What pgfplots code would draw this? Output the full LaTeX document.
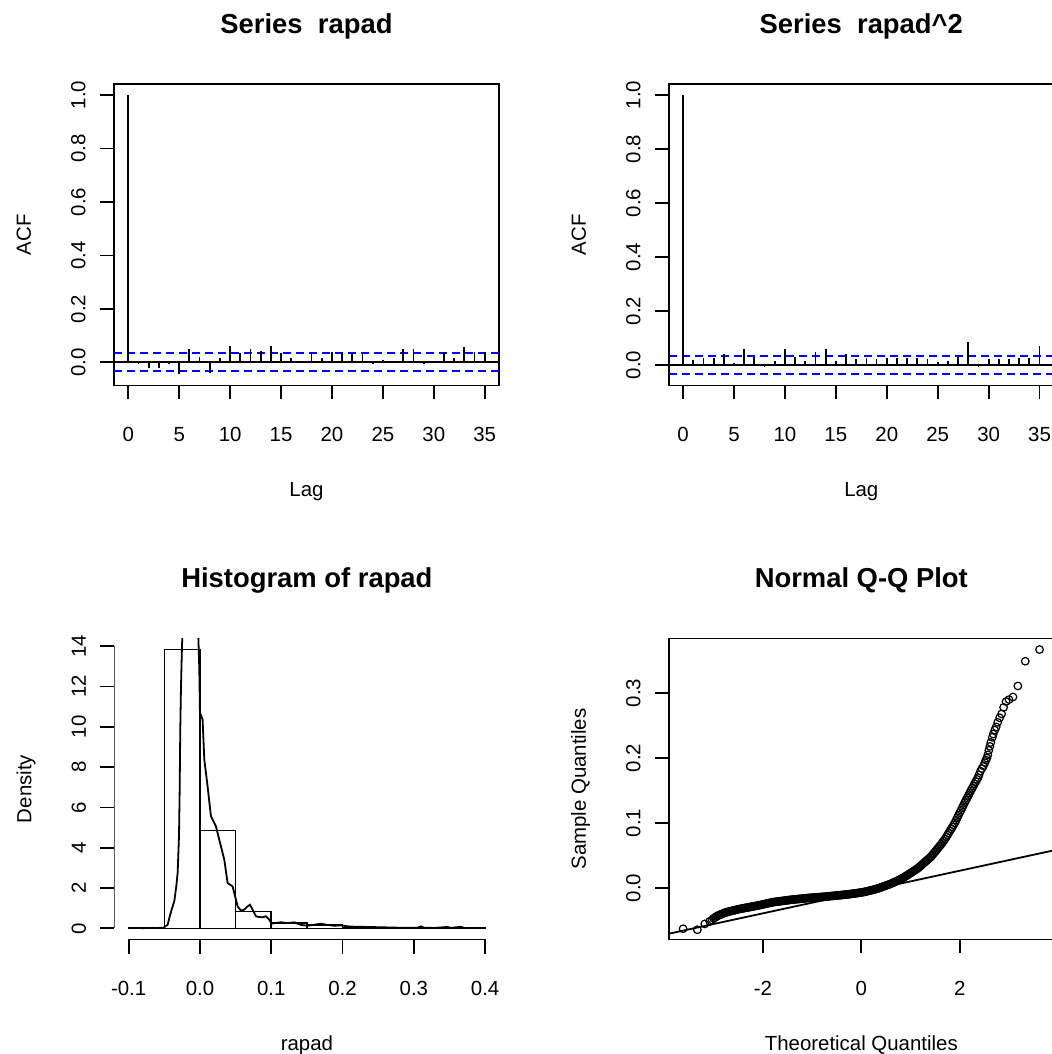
\documentclass[border=0pt]{standalone}
\usepackage{fontspec}
\setmainfont{Liberation Sans}
\usepackage{pgfplots}
\pgfplotsset{compat=1.18}
\definecolor{rblue}{RGB}{0,0,255}
\pgfplotsset{
  rbase/.style={
    scale only axis, width=385bp, anchor=south west,
    axis line style={line width=1.8bp},
    every tick/.style={black, line width=1.8bp},
    tick align=outside, major tick length=14bp,
    xtick pos=bottom, ytick pos=left,
    tick label style={font=\fontsize{20.5}{24}\selectfont, inner sep=0pt},
    xticklabel style={anchor=base},
    yticklabel style={rotate=90, anchor=base},
    xticklabel shift=42bp,
    yticklabel shift=14.5bp,
    every axis x label/.style={at={(axis description cs:0.5,-0.368)}, anchor=base, inner sep=0pt, font=\fontsize{20.5}{24}\selectfont},
    every axis y label/.style={at={(axis description cs:-0.2156,0.5)}, rotate=90, anchor=base, inner sep=0pt, font=\fontsize{20.5}{24}\selectfont},
    every axis title/.style={at={(axis description cs:0.5,1.169)}, anchor=base, font=\bfseries\fontsize{27.5}{32}\selectfont, inner sep=0pt},
  },
  acf/.style={rbase, height=301.5bp,
    xmin=-1.4, xmax=36.4,
    xtick={0,5,...,35}, xticklabels={0,5,10,15,20,25,30,35},
    ytick={0,0.2,0.4,0.6,0.8,1.0}, yticklabels={0.0,0.2,0.4,0.6,0.8,1.0},
    xlabel={Lag}, ylabel={ACF}},
}
\begin{document}
\begin{tikzpicture}[x=1bp,y=1bp]
\useasboundingbox (0,0) rectangle (1052,1054);

% ---------- ACF of rapad ----------
\begin{axis}[acf, at={(114bp,668.5bp)}, ymin=-0.0868, ymax=1.0418, title={Series\ \ rapad}]
\addplot[black, line width=1.8bp] coordinates {(-1.4,0) (36.4,0)};
\addplot[rblue, line width=1.8bp, dash pattern=on 8bp off 5bp] coordinates {(-1.4,0.034) (36.4,0.034)};
\addplot[rblue, line width=1.8bp, dash pattern=on 8bp off 5bp] coordinates {(-1.4,-0.034) (36.4,-0.034)};
\addplot[ycomb, black, line width=1.8bp, mark=none] coordinates {
(0,1)(1,-0.005)(2,-0.020)(3,-0.020)(4,-0.006)(5,-0.045)(6,0.050)(7,0.020)(8,-0.040)(9,0.017)
(10,0.062)(11,0.035)(12,0.049)(13,0.042)(14,0.062)(15,0.035)(16,0.017)(17,0.003)(18,0.039)(19,0.017)
(20,0.039)(21,0.039)(22,0.035)(23,0.030)(24,-0.005)(25,0.010)(26,0.002)(27,0.049)(28,0.049)(29,-0.005)
(30,0.001)(31,0.039)(32,0.017)(33,0.057)(34,0.039)(35,0.039)};
\end{axis}

% ---------- ACF of rapad^2 ----------
\begin{axis}[acf, at={(668.8bp,668.5bp)}, ymin=-0.0754, ymax=1.0414, title={Series\ \ rapad\^{}2}]
\addplot[black, line width=1.8bp] coordinates {(-1.4,0) (36.4,0)};
\addplot[rblue, line width=1.8bp, dash pattern=on 8bp off 5bp] coordinates {(-1.4,0.034) (36.4,0.034)};
\addplot[rblue, line width=1.8bp, dash pattern=on 8bp off 5bp] coordinates {(-1.4,-0.034) (36.4,-0.034)};
\addplot[ycomb, black, line width=1.8bp, mark=none] coordinates {
(0,1)(1,0.019)(2,0.028)(3,0.028)(4,0.041)(5,0.009)(6,0.058)(7,0.031)(8,-0.006)(9,0.015)
(10,0.058)(11,0.031)(12,0.016)(13,0.047)(14,0.058)(15,0.015)(16,0.041)(17,0.021)(18,0.028)(19,0.021)
(20,0.028)(21,0.028)(22,0.028)(23,0.028)(24,0.021)(25,0.012)(26,0.016)(27,0.031)(28,0.086)(29,-0.006)
(30,0.021)(31,0.021)(32,0.021)(33,0.028)(34,0.028)(35,0.072)};
\end{axis}

% ---------- Histogram ----------
\begin{axis}[rbase, at={(114.4bp,114.5bp)}, height=301bp,
  xmin=-0.12, xmax=0.42, ymin=-0.553, ymax=14.38,
  axis line style={draw=none},
  xtick={-0.1,0,0.1,0.2,0.3,0.4}, xticklabels={-0.1,0.0,0.1,0.2,0.3,0.4},
  ytick={0,2,...,14}, yticklabels={0,2,4,6,8,10,12,14},
  xlabel={rapad}, ylabel={Density}, title={Histogram of rapad}]
\addplot[ybar interval, draw=black, fill=none, line width=1.6bp] coordinates {
(-0.10,0.02)(-0.05,13.83)(0.00,4.86)(0.05,0.83)(0.10,0.26)(0.15,0.18)(0.20,0.05)(0.25,0.03)(0.30,0.03)(0.35,0.02)(0.40,0.02)};
\addplot[black, line width=1.8bp] coordinates {
(-0.100,0.02)(-0.090,0.02)(-0.080,0.01)(-0.070,0.02)(-0.060,0.02)(-0.052,0.03)(-0.050,0.06)
(-0.0453,0.18)(-0.043,0.51)(-0.0397,0.93)(-0.036,1.34)(-0.0332,2.08)(-0.0313,2.75)(-0.0294,4.57)
(-0.0285,6.72)(-0.0276,9.86)(-0.0266,12.0)(-0.0252,14.0)(-0.0238,15.3)(-0.018,18.5)(-0.012,20)
(-0.007,18.5)(-0.0023,14.49)(-0.0009,12.84)(0.0000,10.69)(0.0037,10.36)(0.0061,8.37)(0.0107,7.05)
(0.0154,5.56)(0.0224,5.06)(0.0271,4.40)(0.0341,3.41)(0.0388,2.25)(0.0458,2.08)(0.0505,1.42)
(0.0528,1.09)(0.0575,0.88)(0.0621,0.93)(0.0668,1.09)(0.0701,1.17)(0.0738,0.93)(0.0785,0.60)
(0.0832,0.56)(0.0879,0.55)(0.0925,0.60)(0.0972,0.43)(0.1005,0.23)(0.1042,0.26)(0.1136,0.30)
(0.1229,0.26)(0.1322,0.30)(0.1416,0.17)(0.1509,0.13)(0.1603,0.18)(0.1696,0.23)(0.1790,0.17)
(0.1883,0.13)(0.1977,0.15)(0.2070,0.10)(0.2164,0.08)(0.2350,0.07)(0.2584,0.05)(0.2818,0.03)
(0.3051,0.03)(0.3098,0.10)(0.3145,0.03)(0.3285,0.02)(0.3472,0.07)(0.3519,0.02)(0.3659,0.08)
(0.3706,0.02)(0.3986,0.02)};
\draw[line width=1.8bp] (axis cs:-0.1,-0.553) -- (axis cs:0.4,-0.553);
\draw[line width=1.8bp] (axis cs:-0.12,0) -- (axis cs:-0.12,14);
\end{axis}

% ---------- Normal Q-Q ----------
\begin{axis}[rbase, at={(668.8bp,114.5bp)}, height=301bp,
  xmin=-3.91, xmax=3.91, ymin=-0.079, ymax=0.384,
  xtick={-2,0,2}, xticklabels={-2,0,2},
  ytick={0,0.1,0.2,0.3}, yticklabels={0.0,0.1,0.2,0.3},
  xlabel={Theoretical Quantiles}, ylabel={Sample Quantiles}, title={Normal Q-Q Plot}]
\addplot[black, line width=1.8bp] coordinates {(-3.91,-0.0701) (3.91,0.0581)};
\addplot[only marks, mark=o, mark size=3.8bp, mark options={line width=1.2bp, black}] table[row sep=\\] {
x y\\
-3.62 -0.0625\\ -3.33 -0.064\\ -3.18 -0.055\\ -3.08 -0.051\\ -3.03 -0.049\\
-3.00 -0.0465\\ -2.975 -0.0452\\ -2.95 -0.044\\ -2.925 -0.0429\\ -2.90 -0.0418\\
-2.875 -0.041\\ -2.85 -0.0402\\ -2.825 -0.0395\\ -2.80 -0.0387\\ -2.775 -0.038\\
-2.75 -0.0372\\ -2.725 -0.0368\\ -2.70 -0.0363\\ -2.675 -0.0358\\ -2.65 -0.0353\\
-2.625 -0.0349\\ -2.60 -0.0344\\ -2.575 -0.034\\ -2.55 -0.0335\\ -2.525 -0.033\\
-2.50 -0.0325\\ -2.475 -0.0321\\ -2.45 -0.0317\\ -2.425 -0.0314\\ -2.40 -0.031\\
-2.375 -0.0307\\ -2.35 -0.0303\\ -2.325 -0.03\\ -2.30 -0.0296\\ -2.275 -0.0293\\
-2.25 -0.0289\\ -2.225 -0.0285\\ -2.20 -0.0281\\ -2.175 -0.0278\\ -2.15 -0.0274\\
-2.125 -0.0271\\ -2.10 -0.0267\\ -2.075 -0.0263\\ -2.05 -0.0259\\ -2.025 -0.0255\\
-2.00 -0.025\\ -1.975 -0.0246\\ -1.95 -0.0242\\ -1.925 -0.0238\\ -1.90 -0.0233\\
-1.875 -0.0229\\ -1.85 -0.0225\\ -1.825 -0.0221\\ -1.80 -0.0217\\ -1.775 -0.0214\\
-1.75 -0.0211\\ -1.725 -0.0209\\ -1.70 -0.0206\\ -1.675 -0.0204\\ -1.65 -0.0201\\
-1.625 -0.0199\\ -1.60 -0.0196\\ -1.575 -0.0194\\ -1.55 -0.0191\\ -1.525 -0.0189\\
-1.50 -0.0186\\ -1.475 -0.0184\\ -1.45 -0.0181\\ -1.425 -0.0179\\ -1.40 -0.0177\\
-1.375 -0.0175\\ -1.35 -0.0173\\ -1.325 -0.0171\\ -1.30 -0.0169\\ -1.275 -0.0167\\
-1.25 -0.0165\\ -1.225 -0.0163\\ -1.20 -0.0161\\ -1.175 -0.0159\\ -1.15 -0.0157\\
-1.125 -0.0155\\ -1.10 -0.0153\\ -1.075 -0.0152\\ -1.05 -0.015\\ -1.025 -0.0149\\
-1.00 -0.0147\\ -0.975 -0.0146\\ -0.95 -0.0144\\ -0.925 -0.0143\\ -0.90 -0.0141\\
-0.875 -0.014\\ -0.85 -0.0138\\ -0.825 -0.0137\\ -0.80 -0.0135\\ -0.775 -0.0134\\
-0.75 -0.0132\\ -0.725 -0.013\\ -0.70 -0.0128\\ -0.675 -0.0127\\ -0.65 -0.0125\\
-0.625 -0.0123\\ -0.60 -0.0121\\ -0.575 -0.0119\\ -0.55 -0.0117\\ -0.525 -0.0115\\
-0.50 -0.0113\\ -0.475 -0.0111\\ -0.45 -0.0109\\ -0.425 -0.0108\\ -0.40 -0.0106\\
-0.375 -0.0104\\ -0.35 -0.0102\\ -0.325 -0.01\\ -0.30 -0.0098\\ -0.275 -0.0096\\
-0.25 -0.0093\\ -0.225 -0.0091\\ -0.20 -0.0088\\ -0.175 -0.0086\\ -0.15 -0.0083\\
-0.125 -0.0081\\ -0.10 -0.0078\\ -0.075 -0.0075\\ -0.05 -0.0072\\ -0.025 -0.0069\\
0.00 -0.0066\\ 0.025 -0.0063\\ 0.05 -0.006\\ 0.075 -0.0056\\ 0.10 -0.0051\\
0.125 -0.0047\\ 0.15 -0.0042\\ 0.175 -0.0037\\ 0.20 -0.0032\\ 0.225 -0.0028\\
0.25 -0.0023\\ 0.275 -0.0019\\ 0.30 -0.0014\\ 0.325 -0.0008\\ 0.35 -0.0002\\
0.375 0.0005\\ 0.40 0.0012\\ 0.425 0.0019\\ 0.45 0.0026\\ 0.475 0.0033\\
0.50 0.004\\ 0.525 0.0047\\ 0.55 0.0053\\ 0.575 0.006\\ 0.60 0.0067\\
0.625 0.0076\\ 0.65 0.0085\\ 0.675 0.0094\\ 0.70 0.0103\\ 0.725 0.0112\\
0.75 0.0121\\ 0.775 0.013\\ 0.80 0.0140\\ 0.825 0.015\\ 0.85 0.0159\\
0.875 0.0171\\ 0.90 0.0183\\ 0.925 0.0195\\ 0.95 0.0207\\ 0.975 0.0219\\
1.00 0.0231\\ 1.025 0.0244\\ 1.05 0.0256\\ 1.075 0.0269\\ 1.10 0.0281\\
1.125 0.0294\\ 1.15 0.0307\\ 1.175 0.0324\\ 1.20 0.0340\\ 1.225 0.0357\\
1.25 0.0373\\ 1.275 0.039\\ 1.30 0.0407\\ 1.325 0.0424\\ 1.35 0.0440\\
1.375 0.0457\\ 1.40 0.0473\\ 1.425 0.0494\\
1.45 0.0515\\ 1.475 0.0538\\ 1.50 0.0562\\ 1.525 0.0585\\ 1.55 0.0608\\
1.575 0.0632\\ 1.60 0.0655\\ 1.625 0.0678\\ 1.65 0.0702\\ 1.675 0.0728\\
1.70 0.0755\\ 1.725 0.0786\\ 1.75 0.0817\\ 1.775 0.0848\\ 1.80 0.0879\\
1.825 0.0910\\ 1.85 0.0940\\ 1.875 0.0972\\ 1.90 0.1005\\ 1.925 0.1044\\
1.95 0.1083\\ 1.975 0.1122\\ 2.00 0.1160\\ 2.025 0.1199\\ 2.05 0.1238\\
2.075 0.1277\\ 2.10 0.1315\\ 2.125 0.1352\\ 2.15 0.1389\\ 2.175 0.1425\\
2.20 0.1462\\ 2.225 0.1498\\ 2.25 0.1535\\ 2.275 0.1570\\ 2.30 0.1605\\
2.325 0.1638\\ 2.35 0.1672\\ 2.37 0.170\\ 2.39 0.174\\ 2.42 0.180\\
2.45 0.184\\ 2.48 0.188\\ 2.51 0.193\\ 2.53 0.197\\ 2.55 0.200\\
2.57 0.205\\ 2.59 0.212\\ 2.61 0.218\\ 2.63 0.224\\ 2.66 0.232\\
2.68 0.237\\ 2.71 0.243\\ 2.74 0.248\\ 2.77 0.255\\ 2.81 0.262\\
2.85 0.268\\ 2.89 0.278\\ 2.94 0.287\\ 3.00 0.290\\ 3.08 0.294\\
3.18 0.311\\ 3.33 0.349\\ 3.62 0.367\\
};
\end{axis}
\end{tikzpicture}
\end{document}
